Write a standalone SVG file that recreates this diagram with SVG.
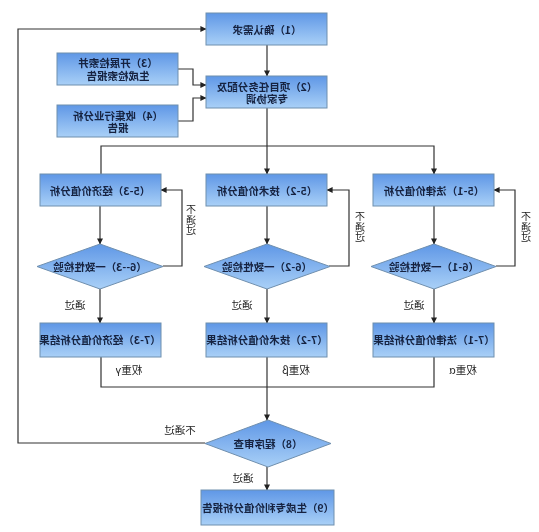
<svg xmlns="http://www.w3.org/2000/svg" width="539" height="532" viewBox="0 0 539 532">
<style>
.n{fill:url(#g);stroke:#6f8fae;stroke-width:1}
.t{font-family:"Noto Sans CJK SC","Liberation Sans",sans-serif;font-size:10.5px;fill:#14213f;text-anchor:middle;font-weight:700;filter:url(#b)}
.l{font-family:"Noto Sans CJK SC","Liberation Sans",sans-serif;font-size:10.5px;fill:#222;text-anchor:middle;filter:url(#b)}
.v{font-size:10px;writing-mode:vertical-rl;letter-spacing:0.500px}
.c{fill:none;stroke:#333;stroke-width:1.2}
</style>
<defs>
<linearGradient id="g" x1="0" y1="0" x2="0" y2="1"><stop offset="0" stop-color="#5f97e6"/><stop offset="1" stop-color="#a9d0f7"/></linearGradient>
<filter id="b" x="-20%" y="-20%" width="140%" height="140%"><feGaussianBlur stdDeviation="0.3"/></filter>
<marker id="a" viewBox="0 0 8 8" refX="7.5" refY="4" markerWidth="6" markerHeight="6" markerUnits="userSpaceOnUse" orient="auto"><path d="M0 0L8 4L0 8Z" fill="#222"/></marker>
</defs>
<rect width="539" height="532" fill="#fff"/>
<g id="connectors">
<path class="c" marker-end="url(#a)" d="M267 45V76"/>
<path class="c" marker-end="url(#a)" d="M178 69H193V85H206"/>
<path class="c" marker-end="url(#a)" d="M178 121H193V98H206"/>
<path class="c" d="M267 108V146"/>
<path class="c" marker-end="url(#a)" d="M101 174V146H434V174"/>
<path class="c" marker-end="url(#a)" d="M267 146V174"/>
<path class="c" marker-end="url(#a)" d="M100 206V244"/>
<path class="c" marker-end="url(#a)" d="M267 206V244"/>
<path class="c" marker-end="url(#a)" d="M434 206V244"/>
<path class="c" marker-end="url(#a)" d="M100 289V323"/>
<path class="c" marker-end="url(#a)" d="M267 289V323"/>
<path class="c" marker-end="url(#a)" d="M434 289V323"/>
<path class="c" marker-end="url(#a)" d="M163 266H182V190H161"/>
<path class="c" marker-end="url(#a)" d="M329 266H349V190H327"/>
<path class="c" marker-end="url(#a)" d="M496 266H515V190H494"/>
<path class="c" d="M101 357V387H434V357"/>
<path class="c" marker-end="url(#a)" d="M267 357V420"/>
<path class="c" marker-end="url(#a)" d="M267 467V490"/>
<path class="c" marker-end="url(#a)" d="M205 443H18V29H206"/>
</g>
<g id="n1"><rect class="n" x="206" y="13" width="121" height="32"/><text class="t" transform="translate(267,34) scale(-1,1)">（1）确认需求</text></g>
<g id="n2"><rect class="n" x="206" y="76" width="121" height="32"/><text class="t" transform="translate(267,91) scale(-1,1)">（2）项目任务分配及<tspan x="0" dy="12">专家协调</tspan></text></g>
<g id="n3"><rect class="n" x="57" y="53" width="121" height="32"/><text class="t" transform="translate(118,67) scale(-1,1)">（3）开展检索并<tspan x="0" dy="13">生成检索报告</tspan></text></g>
<g id="n4"><rect class="n" x="57" y="105" width="121" height="32"/><text class="t" transform="translate(118,120) scale(-1,1)">（4）收集行业分析<tspan x="0" dy="12">报告</tspan></text></g>
<g id="n5-3"><rect class="n" x="40" y="174" width="121" height="32"/><text class="t" transform="translate(100,195) scale(-1,1)">（5-3）经济价值分析</text></g>
<g id="n5-2"><rect class="n" x="206" y="174" width="121" height="32"/><text class="t" transform="translate(267,195) scale(-1,1)">（5-2）技术价值分析</text></g>
<g id="n5-1"><rect class="n" x="373" y="174" width="121" height="32"/><text class="t" transform="translate(434,195) scale(-1,1)">（5-1）法律价值分析</text></g>
<g id="n6-3"><path class="n" d="M100 244L163 266.500L100 289L37 266.500Z"/><text class="t" transform="translate(100,271) scale(-1,1)">（6--3）一致性检验</text></g>
<g id="n6-2"><path class="n" d="M267 244L330 266.500L267 289L204 266.500Z"/><text class="t" transform="translate(267,271) scale(-1,1)">（6-2）一致性检验</text></g>
<g id="n6-1"><path class="n" d="M434 244L496 266.500L434 289L371 266.500Z"/><text class="t" transform="translate(434,271) scale(-1,1)">（6-1）一致性检验</text></g>
<g id="n7-3"><rect class="n" x="40" y="323" width="121" height="34"/><text class="t" transform="translate(100,344) scale(-1,1)">（7-3）经济价值分析结果</text></g>
<g id="n7-2"><rect class="n" x="206" y="323" width="121" height="34"/><text class="t" transform="translate(267,344) scale(-1,1)">（7-2）技术价值分析结果</text></g>
<g id="n7-1"><rect class="n" x="373" y="323" width="121" height="34"/><text class="t" transform="translate(434,344) scale(-1,1)">（7-1）法律价值分析结果</text></g>
<g id="n8"><path class="n" d="M268 420L331 443.500L268 467L205 443.500Z"/><text class="t" transform="translate(268,448) scale(-1,1)">（8）程序审查</text></g>
<g id="n9"><rect class="n" x="201" y="490" width="133" height="35"/><text class="t" transform="translate(268,512) scale(-1,1)">（9）生成专利价值分析报告</text></g>
<g id="labels">
<text class="l v" transform="translate(191,220) scale(-1,1)">不通过</text>
<text class="l v" transform="translate(360,227) scale(-1,1)">不通过</text>
<text class="l v" transform="translate(526,227) scale(-1,1)">不通过</text>
<text class="l" transform="translate(75,309) scale(-1,1)">通过</text>
<text class="l" transform="translate(242,309) scale(-1,1)">通过</text>
<text class="l" transform="translate(414,309) scale(-1,1)">通过</text>
<text class="l" transform="translate(129,374) scale(-1,1)">权重γ</text>
<text class="l" transform="translate(296,374) scale(-1,1)">权重β</text>
<text class="l" transform="translate(463,374) scale(-1,1)">权重α</text>
<text class="l" transform="translate(180,434) scale(-1,1)">不通过</text>
<text class="l" transform="translate(243,482) scale(-1,1)">通过</text>
</g>
</svg>
